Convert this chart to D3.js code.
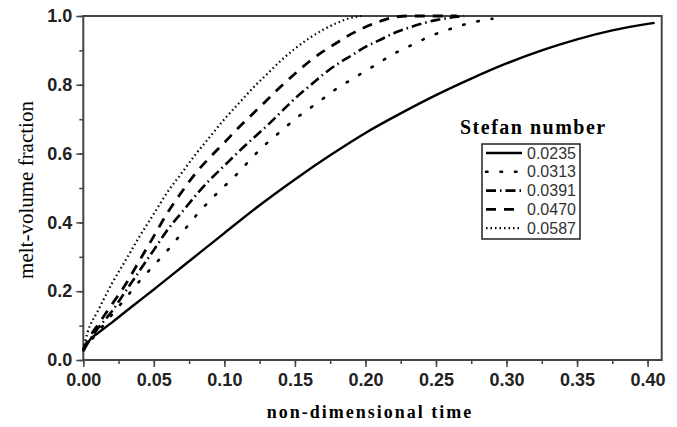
<!DOCTYPE html>
<html><head><meta charset="utf-8">
<script src="https://cdn.jsdelivr.net/npm/d3@7"></script>
<style>body{margin:0;background:#fff}svg{display:block}</style>
</head><body>
<svg id="c" width="677" height="427"></svg>
<script>
const xTicks = [0,0.05,0.10,0.15,0.20,0.25,0.30,0.35,0.40];
const yTicks = [0,0.2,0.4,0.6,0.8,1.0];
const seriesNames = ["0.0235","0.0313","0.0391","0.0470","0.0587"];
const t0235 = [0,0.005,0.01,0.02,0.035,0.05,0.075,0.10,0.125,0.15,0.175,0.20,0.225,0.25,0.275,0.30,0.325,0.35,0.375,0.40,0.405];
const v0235 = [0.025,0.06,0.077,0.108,0.157,0.205,0.287,0.369,0.45,0.525,0.595,0.66,0.717,0.77,0.818,0.862,0.90,0.932,0.958,0.977,0.98];
const t0313 = [0,0.01,0.02,0.03,0.04,0.05,0.06,0.07,0.08,0.09,0.10,0.11,0.12,0.13,0.14,0.15,0.16,0.17,0.18,0.19,0.20,0.21,0.22,0.23,0.24,0.25,0.26,0.27,0.28,0.29];
const v0313 = [0.03,0.08,0.13,0.18,0.23,0.275,0.32,0.37,0.42,0.465,0.505,0.545,0.59,0.63,0.665,0.70,0.73,0.76,0.79,0.815,0.84,0.865,0.89,0.91,0.93,0.948,0.962,0.975,0.985,0.992];
const t0391 = [0,0.01,0.02,0.03,0.04,0.05,0.06,0.07,0.08,0.09,0.10,0.11,0.12,0.13,0.14,0.15,0.16,0.17,0.18,0.19,0.20,0.21,0.22,0.23,0.24,0.25,0.26,0.27];
const v0391 = [0.03,0.09,0.14,0.20,0.26,0.32,0.38,0.43,0.48,0.525,0.565,0.605,0.643,0.68,0.72,0.76,0.795,0.83,0.86,0.885,0.91,0.93,0.95,0.965,0.978,0.988,0.995,1.0];
const t0470 = [0,0.005,0.01,0.02,0.03,0.04,0.05,0.06,0.07,0.08,0.09,0.10,0.11,0.12,0.13,0.14,0.15,0.16,0.17,0.18,0.19,0.20,0.21,0.22,0.23,0.265];
const v0470 = [0.03,0.07,0.10,0.16,0.22,0.29,0.36,0.43,0.49,0.545,0.59,0.632,0.675,0.715,0.755,0.795,0.832,0.867,0.897,0.923,0.948,0.968,0.984,0.996,1.0,1.0];
const t0587 = [0,0.003,0.01,0.02,0.03,0.04,0.05,0.06,0.07,0.08,0.09,0.10,0.11,0.12,0.13,0.14,0.15,0.16,0.17,0.18,0.19,0.197];
const v0587 = [0.03,0.08,0.14,0.22,0.29,0.36,0.425,0.49,0.545,0.60,0.65,0.70,0.745,0.79,0.83,0.87,0.905,0.935,0.96,0.98,0.995,1.0];

const seriesT = [t0235,t0313,t0391,t0470,t0587];
const seriesV = [v0235,v0313,v0391,v0470,v0587];
const styles = [
  {dash:null, w:2.4, cap:"butt"},
  {dash:"1.5,13", w:2.6, cap:"round"},
  {dash:"10,4,1.5,4", w:2.6, cap:"butt"},
  {dash:"10,8", w:2.8, cap:"butt"},
  {dash:"1.5,3", w:2.2, cap:"butt"}
];

const svg = d3.select("#c");
const L=83.3, R=661.7, T=16, B=360;
const x = d3.scaleLinear().domain([0,0.41]).range([L,R]);
const y = d3.scaleLinear().domain([0,1]).range([B,T]);
const axisColor="#444";

svg.append("rect").attr("x",L).attr("y",T).attr("width",R-L).attr("height",B-T)
  .attr("fill","none").attr("stroke",axisColor).attr("stroke-width",2);

const tickFont = "Liberation Sans, Arial, sans-serif";
const xMinor = d3.range(0,0.41,0.025);
const gx = svg.append("g").attr("transform",`translate(0,${B})`)
  .call(d3.axisBottom(x).tickValues(xMinor).tickSize(4).tickFormat(""));
gx.select(".domain").remove();
gx.selectAll("line").attr("stroke",axisColor).attr("stroke-width",1.5);
const gx2 = svg.append("g").attr("transform",`translate(0,${B})`)
  .call(d3.axisBottom(x).tickValues(xTicks).tickSize(7).tickPadding(6).tickFormat(d3.format(".2f")));
gx2.select(".domain").remove();
gx2.selectAll("line").attr("stroke",axisColor).attr("stroke-width",1.5);
gx2.selectAll("text").attr("font-family",tickFont).attr("font-weight","bold").attr("font-size",18).attr("fill","#222");

const yMinor = d3.range(0,1.01,0.1);
const gy = svg.append("g").attr("transform",`translate(${L},0)`)
  .call(d3.axisLeft(y).tickValues(yMinor).tickSize(4).tickFormat(""));
gy.select(".domain").remove();
gy.selectAll("line").attr("stroke",axisColor).attr("stroke-width",1.5);
const gy2 = svg.append("g").attr("transform",`translate(${L},0)`)
  .call(d3.axisLeft(y).tickValues(yTicks).tickSize(7).tickPadding(4).tickFormat(d3.format(".1f")));
gy2.select(".domain").remove();
gy2.selectAll("line").attr("stroke",axisColor).attr("stroke-width",1.5);
gy2.selectAll("text").attr("font-family",tickFont).attr("font-weight","bold").attr("font-size",18).attr("fill","#222");

svg.append("text").attr("x",370).attr("y",418).attr("text-anchor","middle")
  .attr("font-family","Liberation Serif, Times New Roman, serif").attr("font-weight","bold")
  .attr("font-size",18).attr("letter-spacing",2).text("non-dimensional time");
svg.append("text").attr("transform","translate(33,190) rotate(-90)").attr("text-anchor","middle")
  .attr("font-family","Liberation Serif, Times New Roman, serif")
  .attr("font-size",21).text("melt-volume fraction");

const line = d3.line().x(d=>x(d[0])).y(d=>y(d[1])).curve(d3.curveMonotoneX);
seriesT.forEach((ts,i)=>{
  const data = ts.map((t,j)=>[t,seriesV[i][j]]);
  const st = styles[i];
  svg.append("path").datum(data).attr("d",line).attr("fill","none")
    .attr("stroke","#000").attr("stroke-width",st.w)
    .attr("stroke-dasharray",st.dash).attr("stroke-linecap",st.cap);
});

svg.append("text").attr("x",460).attr("y",134)
  .attr("font-family","Liberation Serif, Times New Roman, serif").attr("font-weight","bold")
  .attr("font-size",20).attr("letter-spacing",1.5).text("Stefan number");
svg.append("rect").attr("x",482).attr("y",144).attr("width",98).attr("height",95)
  .attr("fill","#fff").attr("stroke","#222").attr("stroke-width",1.5);
seriesNames.forEach((n,i)=>{
  const yy = 153 + i*18.8;
  const st = styles[i];
  svg.append("line").attr("x1",486).attr("x2",522).attr("y1",yy).attr("y2",yy)
    .attr("stroke","#000").attr("stroke-width",st.w)
    .attr("stroke-dasharray",st.dash).attr("stroke-linecap",st.cap);
  svg.append("text").attr("x",527).attr("y",yy+5.5)
    .attr("font-family",tickFont).attr("font-size",16).attr("fill","#333").text(n);
});
</script>
</body></html>
